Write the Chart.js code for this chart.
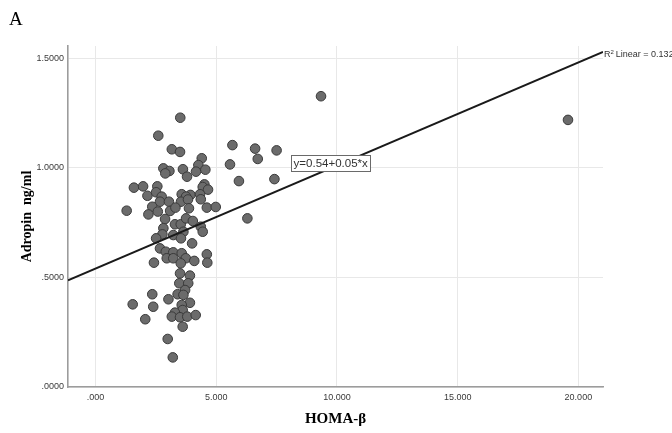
<!DOCTYPE html>
<html>
<head>
<meta charset="utf-8">
<script src="https://cdn.jsdelivr.net/npm/chart.js@4/dist/chart.umd.min.js"></script>
<style>
  html, body { margin: 0; padding: 0; background: #ffffff; }
  #wrap { width: 672px; height: 433px; }
</style>
</head>
<body>
<div id="wrap"><canvas id="c" width="672" height="433"></canvas></div>
<script>
// HOMA-beta (x) against adropin concentration in ng/ml (y)
const homaBeta = [
  3.51, 2.60, 3.16, 3.50, 4.40, 4.26, 4.55, 4.16, 2.81, 3.06, 2.89, 3.62, 3.79,
  9.34, 19.57, 5.67, 6.61, 7.50, 6.72, 5.57, 5.94, 7.41, 6.29,
  1.59, 1.97, 2.56, 2.15, 2.51, 2.74, 4.51, 4.44, 4.66, 3.57, 3.93, 4.33, 3.75, 4.36,
  2.67, 3.04, 3.54, 3.83,
  2.35, 2.58, 2.19, 3.09, 3.31, 3.87, 4.61, 4.98, 1.29,
  2.88, 3.29, 3.53, 3.75, 4.03, 4.36, 4.44, 2.81, 2.77, 2.51, 3.22, 3.64, 3.54,
  2.67, 2.91, 3.22, 3.57, 3.74, 4.00, 2.95, 3.22, 2.42, 3.53, 4.09, 4.61, 4.63,
  3.50, 3.91, 3.47, 3.84, 3.71, 3.40, 3.64, 3.91, 3.57, 3.61, 3.29, 3.16, 3.50, 3.80, 4.15, 3.61,
  1.54, 2.35, 2.39, 2.06, 3.02, 2.99, 3.20
];
const adropin = [
  1.228, 1.146, 1.084, 1.072, 1.043, 1.012, 0.991, 0.982, 0.997, 0.985, 0.974, 0.993, 0.959,
  1.326, 1.218, 1.103, 1.087, 1.079, 1.040, 1.015, 0.939, 0.948, 0.769,
  0.909, 0.915, 0.915, 0.872, 0.888, 0.868, 0.924, 0.912, 0.900, 0.879, 0.876, 0.879, 0.868, 0.856,
  0.845, 0.845, 0.845, 0.855,
  0.822, 0.800, 0.787, 0.803, 0.818, 0.815, 0.818, 0.821, 0.804,
  0.766, 0.742, 0.742, 0.769, 0.757, 0.731, 0.708, 0.724, 0.696, 0.678, 0.693, 0.708, 0.678,
  0.632, 0.617, 0.614, 0.610, 0.587, 0.655, 0.587, 0.587, 0.567, 0.564, 0.575, 0.605, 0.567,
  0.518, 0.508, 0.473, 0.473, 0.442, 0.423, 0.420, 0.384, 0.374, 0.351, 0.339, 0.321, 0.318, 0.321, 0.328, 0.275,
  0.377, 0.423, 0.366, 0.309, 0.400, 0.219, 0.135
];

// Fitted linear regression
const lineIntercept = 0.54;
const lineSlope = 0.047;
const rSquared = 0.132;

// Axis ranges and tick labels
const xRange = [-1.14, 21.02];
const yRange = [0, 1.555];
const xTickValues = [0, 5, 10, 15, 20];
const xTickLabels = ['.000', '5.000', '10.000', '15.000', '20.000'];
const yTickValues = [0, 0.5, 1.0, 1.5];
const yTickLabels = ['.0000', '.5000', '1.0000', '1.5000'];

const points = homaBeta.map((x, i) => ({ x: x, y: adropin[i] }));
const fitLine = xRange.map(x => ({ x: x, y: lineIntercept + lineSlope * x }));

const eqText = 'y=' + lineIntercept.toFixed(2) + '+' + (Math.round(lineSlope * 100) / 100).toFixed(2) + '*x';

const tickFont = { family: '"Liberation Sans", Arial, sans-serif', size: 9 };

const labelsPlugin = {
  id: 'labelsPlugin',
  afterDraw(chart) {
    const ctx = chart.ctx;
    const xs = chart.scales.x, ys = chart.scales.y;
    ctx.save();
    // Panel letter
    ctx.fillStyle = '#000';
    ctx.font = '19px "Liberation Serif", "Times New Roman", serif';
    ctx.textAlign = 'left';
    ctx.textBaseline = 'middle';
    ctx.fillText('A', 9, 20);

    // R squared at the end of the fit line
    const endX = xs.getPixelForValue(xRange[1]);
    const endY = ys.getPixelForValue(lineIntercept + lineSlope * xRange[1]);
    ctx.fillStyle = '#333';
    ctx.font = '9px "Liberation Sans", Arial, sans-serif';
    let tx = endX + 1, ty = endY + 3;
    ctx.fillText('R', tx, ty);
    tx += ctx.measureText('R').width;
    ctx.font = '6px "Liberation Sans", Arial, sans-serif';
    ctx.fillText('2', tx, ty - 3);
    tx += ctx.measureText('2').width + 2;
    ctx.font = '9px "Liberation Sans", Arial, sans-serif';
    ctx.fillText('Linear = ' + rSquared.toFixed(3), tx, ty);

    // Equation box
    const bx = xs.getPixelForValue(8.1);
    const by = ys.getPixelForValue(1.058);
    ctx.font = '11.5px "Liberation Sans", Arial, sans-serif';
    const w = ctx.measureText(eqText).width + 5;
    const h = 16;
    ctx.fillStyle = '#fff';
    ctx.fillRect(bx, by, w, h);
    ctx.strokeStyle = '#6a6a6a';
    ctx.lineWidth = 1;
    ctx.strokeRect(Math.round(bx) + 0.5, Math.round(by) + 0.5, Math.round(w), h);
    ctx.fillStyle = '#333';
    ctx.fillText(eqText, bx + 2.5, by + h / 2 + 0.5);
    ctx.restore();
  }
};

new Chart(document.getElementById('c'), {
  type: 'scatter',
  data: {
    datasets: [
      {
        label: 'Fit',
        type: 'line',
        data: fitLine,
        borderColor: '#1a1a1a',
        borderWidth: 1.8,
        pointRadius: 0,
        fill: false,
        order: 0
      },
      {
        label: 'Adropin',
        data: points,
        backgroundColor: '#6b6b6b',
        borderColor: '#3a3a3a',
        borderWidth: 1,
        pointRadius: 4.8,
        order: 1
      }
    ]
  },
  options: {
    responsive: false,
    devicePixelRatio: 1,
    animation: false,
    layout: { padding: { left: 0, right: 69, top: 46, bottom: 0 } },
    plugins: { legend: { display: false }, tooltip: { enabled: false } },
    scales: {
      x: {
        type: 'linear',
        min: xRange[0],
        max: xRange[1],
        afterBuildTicks(scale) { scale.ticks = xTickValues.map(v => ({ value: v })); },
        afterFit(scale) { scale.height = 46; },
        ticks: {
          font: tickFont,
          color: '#3a3a3a',
          padding: 5,
          maxRotation: 0,
          callback: (v) => xTickLabels[xTickValues.indexOf(v)]
        },
        grid: { color: '#e8e8e8', lineWidth: 1, drawTicks: false },
        border: { display: true, color: '#9c9c9c', width: 1.6 },
        title: {
          display: true,
          text: 'HOMA-β',
          color: '#000',
          font: { family: '"Liberation Serif", "Times New Roman", serif', size: 15, weight: 'bold' },
          padding: { top: 0, bottom: 5 }
        }
      },
      y: {
        type: 'linear',
        min: yRange[0],
        max: yRange[1],
        afterBuildTicks(scale) { scale.ticks = yTickValues.map(v => ({ value: v })); },
        afterFit(scale) { scale.width = 68; },
        ticks: {
          font: tickFont,
          color: '#3a3a3a',
          padding: 4,
          callback: (v) => yTickLabels[yTickValues.indexOf(v)]
        },
        grid: { color: '#e8e8e8', lineWidth: 1, drawTicks: false },
        border: { display: true, color: '#9c9c9c', width: 1.6 },
        title: {
          display: true,
          text: 'Adropin  ng/ml',
          color: '#000',
          font: { family: '"Liberation Serif", "Times New Roman", serif', size: 14, weight: 'bold' },
          padding: { top: 18.5, bottom: 0 }
        }
      }
    }
  },
  plugins: [labelsPlugin]
});
</script>
</body>
</html>
